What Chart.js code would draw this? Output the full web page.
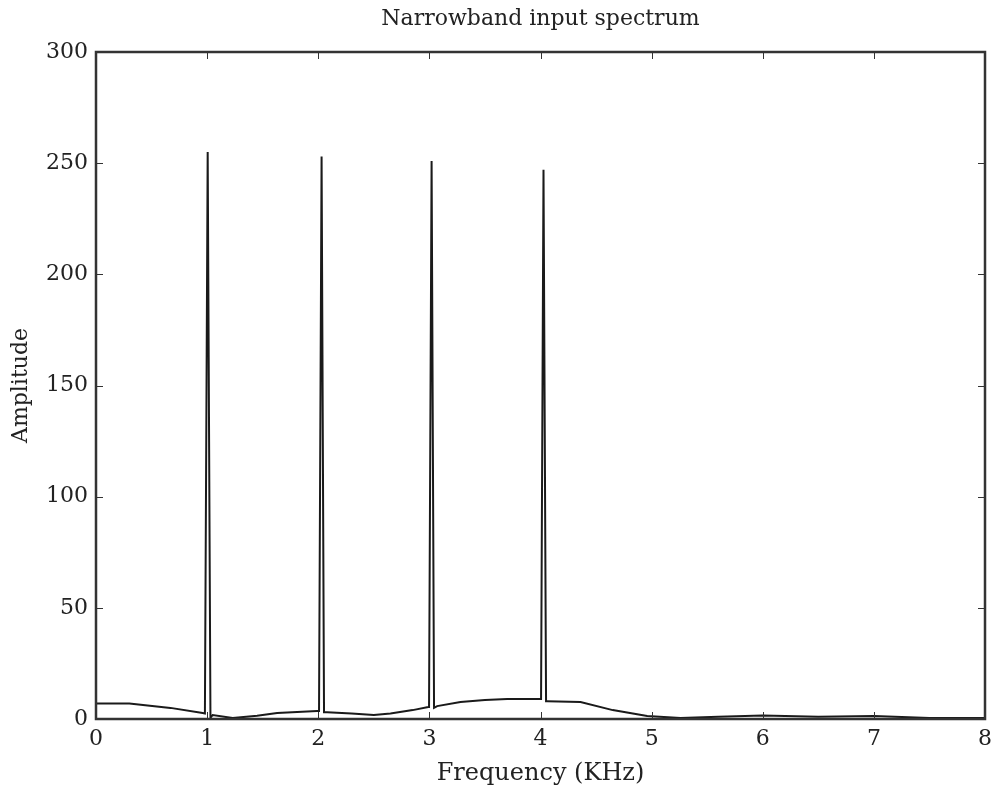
<!DOCTYPE html>
<html>
<head>
<meta charset="utf-8">
<script src="https://cdn.jsdelivr.net/npm/chart.js@4/dist/chart.umd.min.js"></script>
<style>
  html, body { margin: 0; padding: 0; background: #fff; }
  #wrap { width: 999px; height: 792px; }
</style>
</head>
<body>
<div id="wrap"><canvas id="chart"></canvas></div>
<script>
// frequency (KHz) and amplitude
const freqs = [
  0, 0.3, 0.67, 0.96, 0.98, 1.005, 1.03, 1.05, 1.23, 1.45, 1.63, 1.99,
  2.007, 2.03, 2.052, 2.08, 2.3, 2.5, 2.65, 2.85, 2.99, 2.997, 3.02, 3.042,
  3.07, 3.28, 3.5, 3.7, 4.0, 4.005, 4.027, 4.05, 4.06, 4.36, 4.65, 4.96,
  5.26, 5.6, 6.0, 6.5, 7.0, 7.5, 8.0,
];
const amplitude = [
  7, 7, 5, 2.7, 2.5, 255, 0.5, 1.8, 0.5, 1.5, 2.7, 3.6,
  3.6, 253, 3, 3, 2.5, 1.8, 2.5, 4, 5.4, 5.4, 251, 5,
  5.8, 7.6, 8.5, 9, 9, 9, 247, 8, 8, 7.6, 4, 1.3,
  0.5, 1, 1.6, 1, 1.3, 0.5, 0.5,
];
const xTicks = [0, 1, 2, 3, 4, 5, 6, 7, 8];
const yTicks = [0, 50, 100, 150, 200, 250, 300];

const serif = '"DejaVu Serif", "Liberation Serif", serif';

// matlab style frame with inward ticks
const framePlugin = {
  id: 'frame',
  afterDatasetsDraw(chart) {
    const {ctx, chartArea: a, scales} = chart;
    ctx.save();
    ctx.strokeStyle = '#333';
    ctx.lineWidth = 1;
    ctx.beginPath();
    xTicks.forEach((v) => {
      const px = Math.round(scales.x.getPixelForValue(v)) + 0.5;
      ctx.moveTo(px, a.bottom);
      ctx.lineTo(px, a.bottom - 7);
      ctx.moveTo(px, a.top);
      ctx.lineTo(px, a.top + 7);
    });
    yTicks.forEach((v) => {
      const py = Math.round(scales.y.getPixelForValue(v)) + 0.5;
      ctx.moveTo(a.left, py);
      ctx.lineTo(a.left + 7, py);
      ctx.moveTo(a.right, py);
      ctx.lineTo(a.right - 7, py);
    });
    ctx.stroke();
    ctx.lineWidth = 2.5;
    ctx.strokeRect(a.left, a.top, a.right - a.left, a.bottom - a.top);
    ctx.restore();
  },
};

new Chart(document.getElementById('chart'), {
  type: 'line',
  data: {
    datasets: [{
      data: freqs.map((f, i) => ({x: f, y: amplitude[i]})),
      borderColor: '#1a1a1a',
      borderWidth: 2,
      pointRadius: 0,
      tension: 0,
    }],
  },
  options: {
    responsive: true,
    maintainAspectRatio: false,
    animation: false,
    layout: {padding: {left: 0, right: 14, top: 0, bottom: 0}},
    plugins: {
      legend: {display: false},
      tooltip: {enabled: false},
    },
    scales: {
      // top axis only carries the title so it centres over the plot box
      top: {
        type: 'linear',
        position: 'top',
        min: 0,
        max: 8,
        afterFit: (s) => { s.height = 52; },
        grid: {display: false, drawTicks: false},
        border: {display: false},
        ticks: {display: false},
        title: {
          display: true,
          text: 'Narrowband input spectrum',
          color: '#222',
          padding: {top: 6, bottom: 0},
          font: {family: serif, size: 22},
        },
      },
      x: {
        type: 'linear',
        position: 'bottom',
        min: 0,
        max: 8,
        afterBuildTicks: (s) => { s.ticks = xTicks.map((v) => ({value: v})); },
        afterFit: (s) => { s.height = 73; },
        grid: {display: false, drawTicks: false},
        border: {display: false},
        ticks: {
          color: '#222',
          padding: 7,
          maxRotation: 0,
          font: {family: serif, size: 22},
        },
        title: {
          display: true,
          text: 'Frequency (KHz)',
          color: '#222',
          padding: {top: 1, bottom: 4},
          font: {family: serif, size: 24},
        },
      },
      y: {
        min: 0,
        max: 300,
        afterBuildTicks: (s) => { s.ticks = yTicks.map((v) => ({value: v})); },
        afterFit: (s) => { s.width = 96; },
        grid: {display: false, drawTicks: false},
        border: {display: false},
        ticks: {
          color: '#222',
          padding: 8,
          font: {family: serif, size: 22},
        },
        title: {
          display: true,
          text: 'Amplitude',
          color: '#222',
          padding: {top: 8, bottom: 0},
          font: {family: serif, size: 22},
        },
      },
    },
  },
  plugins: [framePlugin],
});
</script>
</body>
</html>
